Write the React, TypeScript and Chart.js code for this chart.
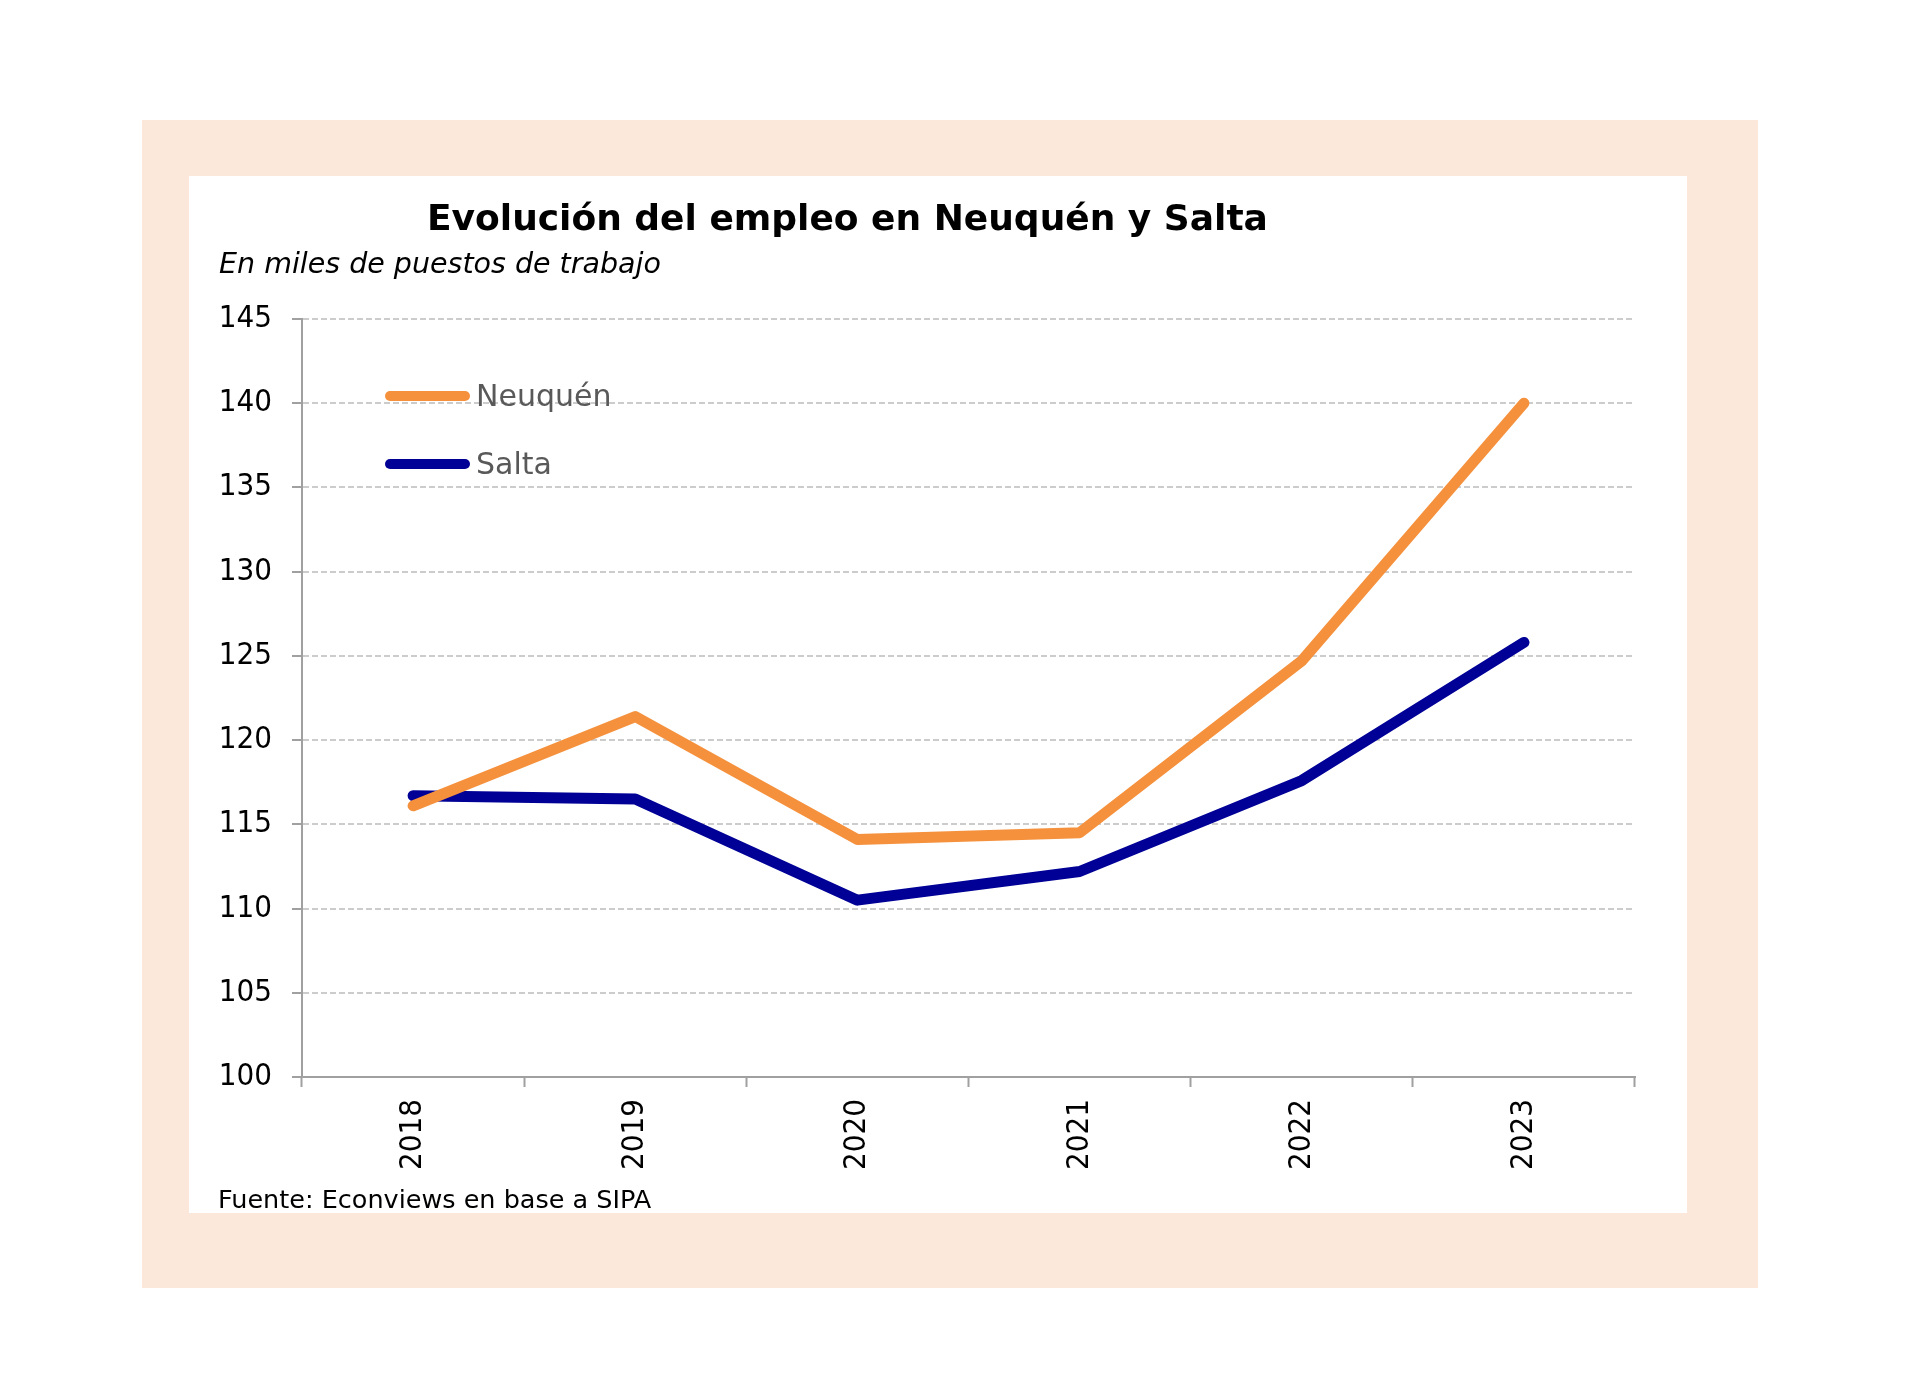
import React, { useEffect, useRef } from 'react';
import { Chart, registerables } from 'chart.js';

Chart.register(...registerables);

const years = ['2018', '2019', '2020', '2021', '2022', '2023'];
const neuquen = [116.1, 121.4, 114.1, 114.5, 124.7, 140.0];
const salta = [116.7, 116.5, 110.5, 112.2, 117.6, 125.8];
const seriesNames = ['Neuquén', 'Salta'];
const yMin = 100;
const yMax = 145;
const yStep = 5;

const FONT = "'DejaVu Sans Condensed', 'DejaVu Sans', sans-serif";
const WIDE = "'DejaVu Sans', sans-serif";
const ORANGE = '#F5913D';
const NAVY = '#000096';

const CANVAS_W = 1498;
const CANVAS_H = 1037;

const legendPlugin = {
  id: 'insideLegend',
  afterDatasetsDraw(chart: any) {
    const { ctx, chartArea } = chart;
    chart.data.datasets.forEach((ds: any, i: number) => {
      const y = chartArea.top + 77 + i * 68;
      const x0 = chartArea.left + 88;
      ctx.save();
      ctx.strokeStyle = ds.borderColor;
      ctx.lineWidth = 10;
      ctx.lineCap = 'round';
      ctx.beginPath();
      ctx.moveTo(x0, y);
      ctx.lineTo(x0 + 75, y);
      ctx.stroke();
      ctx.fillStyle = '#595959';
      ctx.font = `30px ${WIDE}`;
      ctx.textBaseline = 'middle';
      ctx.textAlign = 'left';
      ctx.fillText(ds.label, x0 + 86, y + 2);
      ctx.restore();
    });
  },
};

export default function App() {
  const ref = useRef<HTMLCanvasElement | null>(null);

  useEffect(() => {
    if (!ref.current) return;
    const chart = new Chart(ref.current, {
      type: 'line',
      data: {
        labels: years,
        datasets: [
          {
            label: seriesNames[0],
            data: neuquen,
            borderColor: ORANGE,
            backgroundColor: ORANGE,
            borderWidth: 11,
            pointRadius: 0,
            borderCapStyle: 'round',
            borderJoinStyle: 'round',
            tension: 0,
          },
          {
            label: seriesNames[1],
            data: salta,
            borderColor: NAVY,
            backgroundColor: NAVY,
            borderWidth: 11,
            pointRadius: 0,
            borderCapStyle: 'round',
            borderJoinStyle: 'round',
            tension: 0,
          },
        ],
      },
      options: {
        responsive: false,
        animation: false,
        layout: { padding: { left: 0, top: 143, right: 52, bottom: 0 } },
        plugins: {
          legend: { display: false },
          title: { display: false },
          tooltip: { enabled: false },
        },
        scales: {
          x: {
            type: 'category',
            offset: true,
            grid: {
              display: true,
              drawOnChartArea: false,
              drawTicks: true,
              tickLength: 10,
              tickWidth: 2,
              tickColor: '#A0A0A0',
              offset: true,
            },
            border: { display: true, color: '#A0A0A0', width: 2 },
            ticks: {
              minRotation: 90,
              maxRotation: 90,
              padding: 12,
              color: '#000000',
              font: { family: FONT, size: 31 },
            },
            afterFit: (s: any) => {
              s.height = 136;
            },
          },
          y: {
            min: yMin,
            max: yMax,
            grid: {
              color: '#CCCCCC',
              lineWidth: 2,
              drawTicks: true,
              tickLength: 10,
              tickWidth: 2,
              tickColor: '#A0A0A0',
            },
            border: { display: true, color: '#A0A0A0', width: 2, dash: [6, 3] },
            ticks: {
              stepSize: yStep,
              padding: 20,
              color: '#000000',
              font: { family: FONT, size: 31 },
            },
            afterFit: (s: any) => {
              s.width = 113;
            },
          },
        },
      },
      plugins: [legendPlugin],
    } as any);
    return () => chart.destroy();
  }, []);

  return (
    <div
      style={{
        position: 'absolute',
        left: 0,
        top: 0,
        width: 1920,
        height: 1389,
        background: '#FFFFFF',
        overflow: 'hidden',
      }}
    >
      <div
        style={{
          position: 'absolute',
          left: 142,
          top: 120,
          width: 1616,
          height: 1168,
          background: '#FCE8DA',
        }}
      />
      <div
        style={{
          position: 'absolute',
          left: 189,
          top: 176,
          width: CANVAS_W,
          height: CANVAS_H,
          background: '#FFFFFF',
        }}
      >
        <canvas
          ref={ref}
          width={CANVAS_W}
          height={CANVAS_H}
          style={{ width: CANVAS_W, height: CANVAS_H, display: 'block' }}
        />
      </div>
      <div
        style={{
          position: 'absolute',
          left: 427,
          top: 197,
          fontFamily: WIDE,
          fontWeight: 'bold',
          fontSize: 36,
          lineHeight: '42px',
          color: '#000',
          whiteSpace: 'nowrap',
        }}
      >
        Evolución del empleo en Neuquén y Salta
      </div>
      <div
        style={{
          position: 'absolute',
          left: 219,
          top: 247,
          fontFamily: WIDE,
          fontStyle: 'italic',
          fontSize: 28.5,
          lineHeight: '34px',
          color: '#000',
          whiteSpace: 'nowrap',
        }}
      >
        En miles de puestos de trabajo
      </div>
      <div
        style={{
          position: 'absolute',
          left: 218,
          top: 1183,
          fontFamily: WIDE,
          fontSize: 25.5,
          lineHeight: '32px',
          color: '#000',
          whiteSpace: 'nowrap',
        }}
      >
        Fuente: Econviews en base a SIPA
      </div>
    </div>
  );
}
